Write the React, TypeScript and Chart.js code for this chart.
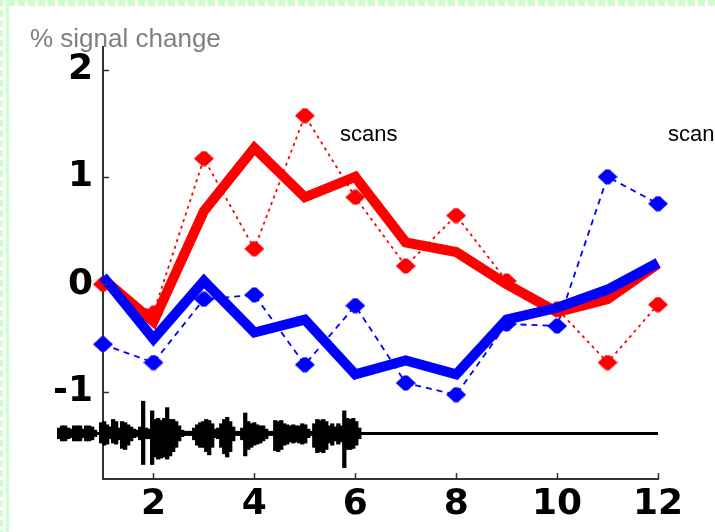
import React, { useEffect, useRef } from "react";
import { Chart, registerables } from "chart.js";

Chart.register(...registerables);

// ---- data ----
const scans = [1, 2, 3, 4, 5, 6, 7, 8, 9, 10, 11, 12];
const redMean = [0.05, -0.35, 0.68, 1.27, 0.81, 1.0, 0.39, 0.3, 0.0, -0.26, -0.14, 0.19];
const blueMean = [0.07, -0.51, 0.03, -0.45, -0.33, -0.84, -0.71, -0.84, -0.33, -0.22, -0.05, 0.2];
const redRaw = [0.0, -0.27, 1.17, 0.33, 1.57, 0.81, 0.17, 0.64, 0.03, -0.23, -0.73, -0.19];
const blueRaw = [-0.56, -0.73, -0.14, -0.1, -0.75, -0.2, -0.92, -1.03, -0.37, -0.39, 1.0, 0.75];

const yTicks = [-1, 0, 1, 2];
const xTicks = [2, 4, 6, 8, 10, 12];

// audio waveform envelope (sampled along the scan axis)
const waveBase = -1.39;
const waveStart = 0.13;
const waveStep = 0.0595;
const waveEnd = 12;
const waveUp = [
  0.05, 0.07, 0.07, 0.05, 0.04, 0.07, 0.07, 0.07, 0.04, 0.07,
  0.07, 0.06, 0.03, 0.01, 0.1, 0.11, 0.08, 0.06, 0.13, 0.11,
  0.05, 0.11, 0.1, 0.08, 0.06, 0.04, 0.03, 0.06, 0.3, 0.05,
  0.04, 0.21, 0.13, 0.14, 0.12, 0.14, 0.24, 0.13, 0.13, 0.11,
  0.07, 0.03, 0.02, 0.02, 0.02, 0.05, 0.08, 0.1, 0.11, 0.13,
  0.12, 0.09, 0.04, 0.05, 0.09, 0.13, 0.15, 0.11, 0.06, 0.02,
  0.02, 0.05, 0.19, 0.11, 0.09, 0.1, 0.08, 0.07, 0.07, 0.04,
  0.02, 0.02, 0.12, 0.11, 0.12, 0.09, 0.08, 0.07, 0.08, 0.07,
  0.07, 0.09, 0.08, 0.04, 0.02, 0.09, 0.13, 0.12, 0.13, 0.11,
  0.07, 0.09, 0.06, 0.09, 0.07, 0.21, 0.14, 0.13, 0.14, 0.11, 0.05,
];
const waveDown = [
  0.05, 0.07, 0.07, 0.05, 0.04, 0.07, 0.07, 0.07, 0.04, 0.07,
  0.07, 0.06, 0.03, 0.01, 0.09, 0.11, 0.1, 0.05, 0.09, 0.1,
  0.06, 0.14, 0.15, 0.11, 0.07, 0.04, 0.03, 0.06, 0.29, 0.05,
  0.05, 0.29, 0.22, 0.24, 0.23, 0.22, 0.24, 0.21, 0.17, 0.13,
  0.07, 0.03, 0.02, 0.02, 0.02, 0.06, 0.11, 0.13, 0.13, 0.17,
  0.2, 0.13, 0.04, 0.05, 0.13, 0.19, 0.22, 0.17, 0.07, 0.02,
  0.02, 0.06, 0.21, 0.15, 0.13, 0.11, 0.1, 0.09, 0.07, 0.05,
  0.02, 0.02, 0.16, 0.17, 0.15, 0.11, 0.1, 0.08, 0.09, 0.08,
  0.09, 0.1, 0.09, 0.04, 0.02, 0.13, 0.18, 0.17, 0.18, 0.15,
  0.09, 0.11, 0.07, 0.1, 0.08, 0.32, 0.15, 0.15, 0.14, 0.11, 0.05,
];

const yTitle = "% signal change";
const annot = "scans";

function makeMarker(color: string): HTMLCanvasElement {
  const c = document.createElement("canvas");
  c.width = 20;
  c.height = 16;
  const ctx = c.getContext("2d")!;
  ctx.fillStyle = color;
  ctx.beginPath();
  ctx.moveTo(0, 8);
  ctx.lineTo(6, 2.5);
  ctx.lineTo(8, 0.5);
  ctx.lineTo(12, 0.5);
  ctx.lineTo(14, 2.5);
  ctx.lineTo(20, 8);
  ctx.lineTo(14, 13.5);
  ctx.lineTo(12, 15.5);
  ctx.lineTo(8, 15.5);
  ctx.lineTo(6, 13.5);
  ctx.closePath();
  ctx.fill();
  return c;
}

const decoPlugin = {
  id: "deco",
  beforeDraw(chart: any) {
    const ctx = chart.ctx;
    ctx.save();
    ctx.fillStyle = "#ffffff";
    ctx.fillRect(0, 0, chart.width, chart.height);
    ctx.fillStyle = "#ccffcc";
    // top dashed band
    for (let x = 8; x < chart.width; x += 10) ctx.fillRect(x, 0, 7, 6);
    // left dashed line
    for (let y = 0; y < chart.height; y += 10) ctx.fillRect(0, y, 3, 7);
    // left solid line
    ctx.fillRect(6, 0, 3, chart.height);
    ctx.restore();
  },
  afterDraw(chart: any) {
    const ctx = chart.ctx;
    const xs = chart.scales.x;
    const ys = chart.scales.y;
    const area = chart.chartArea;
    ctx.save();
    ctx.strokeStyle = "#333333";
    ctx.lineWidth = 1.5;
    ctx.beginPath();
    for (const v of yTicks) {
      const p = Math.round(ys.getPixelForValue(v)) + 0.5;
      ctx.moveTo(area.left, p);
      ctx.lineTo(area.left + 6, p);
    }
    for (const v of xTicks) {
      const p = Math.round(xs.getPixelForValue(v)) + 0.5;
      ctx.moveTo(p, area.bottom);
      ctx.lineTo(p, area.bottom - 6);
    }
    ctx.stroke();
    ctx.textBaseline = "alphabetic";
    ctx.textAlign = "left";
    ctx.fillStyle = "#808080";
    ctx.font = "26px 'Liberation Sans', Arial, sans-serif";
    ctx.fillText(yTitle, 30, 47);
    ctx.fillStyle = "#000000";
    ctx.font = "22px 'Liberation Sans', Arial, sans-serif";
    ctx.fillText(annot, 340, 141);
    ctx.fillText(annot, 668, 141);
    ctx.restore();
  },
};

export default function App() {
  const ref = useRef<HTMLCanvasElement | null>(null);

  useEffect(() => {
    if (!ref.current) return;
    const redMarker = makeMarker("#ff0000");
    const blueMarker = makeMarker("#0000ff");
    const toXY = (arr: number[]) => arr.map((v, i) => ({ x: scans[i], y: v }));
    const waveBars = waveUp.map((u, i) => ({
      x: waveStart + i * waveStep,
      y: [waveBase - waveDown[i], waveBase + u],
    }));

    const tickFont = { family: "'DejaVu Sans', sans-serif", weight: "bold" as const, size: 36 };

    const chart = new Chart(ref.current, {
      type: "line",
      data: {
        datasets: [
          {
            type: "bar",
            data: waveBars as any,
            backgroundColor: "#000000",
            borderWidth: 0,
            barThickness: 3.6,
            clip: false as any,
            order: 0,
          } as any,
          {
            type: "line",
            data: [
              { x: waveStart, y: waveBase },
              { x: waveEnd, y: waveBase },
            ],
            borderColor: "#000000",
            borderWidth: 3,
            pointRadius: 0,
            clip: false as any,
            order: 0,
          },
          {
            data: toXY(blueMean),
            borderColor: "#0000ff",
            borderWidth: 10,
            pointRadius: 0,
            tension: 0,
            borderJoinStyle: "miter",
            clip: false as any,
            order: 1,
          },
          {
            data: toXY(redMean),
            borderColor: "#ff0000",
            borderWidth: 10,
            pointRadius: 0,
            tension: 0,
            borderJoinStyle: "miter",
            clip: false as any,
            order: 2,
          },
          {
            data: toXY(blueRaw),
            borderColor: "#0000ff",
            borderWidth: 1.8,
            borderDash: [6, 5],
            pointStyle: blueMarker as any,
            pointRadius: 10,
            tension: 0,
            clip: false as any,
            order: 3,
          },
          {
            data: toXY(redRaw),
            borderColor: "#ff0000",
            borderWidth: 1.8,
            borderDash: [3, 4],
            pointStyle: redMarker as any,
            pointRadius: 10,
            tension: 0,
            clip: false as any,
            order: 4,
          },
        ],
      },
      options: {
        animation: false,
        responsive: false,
        devicePixelRatio: 1,
        events: [],
        layout: { padding: { left: 0, top: 47, right: 57, bottom: 0 } },
        plugins: {
          legend: { display: false },
          tooltip: { enabled: false },
        },
        scales: {
          x: {
            type: "linear",
            min: 1,
            max: 12,
            offset: false,
            afterBuildTicks: (s: any) => {
              s.ticks = xTicks.map((v) => ({ value: v }));
            },
            afterFit: (s: any) => {
              s.height = 53;
            },
            grid: { display: false, drawTicks: false, offset: false },
            border: { display: true, color: "#333333", width: 2 },
            ticks: {
              font: tickFont,
              color: "#000000",
              padding: 4,
              maxRotation: 0,
              autoSkip: false,
            },
          },
          y: {
            type: "linear",
            min: -1.815,
            max: 2.21,
            afterBuildTicks: (s: any) => {
              s.ticks = yTicks.map((v) => ({ value: v }));
            },
            afterFit: (s: any) => {
              s.width = 103;
            },
            grid: { display: false, drawTicks: false },
            border: { display: true, color: "#333333", width: 2 },
            ticks: {
              font: tickFont,
              color: "#000000",
              padding: 10,
              autoSkip: false,
            },
          },
        },
      },
      plugins: [decoPlugin],
    });
    return () => chart.destroy();
  }, []);

  return (
    <div style={{ position: "absolute", left: 0, top: 0, width: 715, height: 532 }}>
      <canvas ref={ref} width={715} height={532} style={{ display: "block", width: 715, height: 532 }} />
    </div>
  );
}
